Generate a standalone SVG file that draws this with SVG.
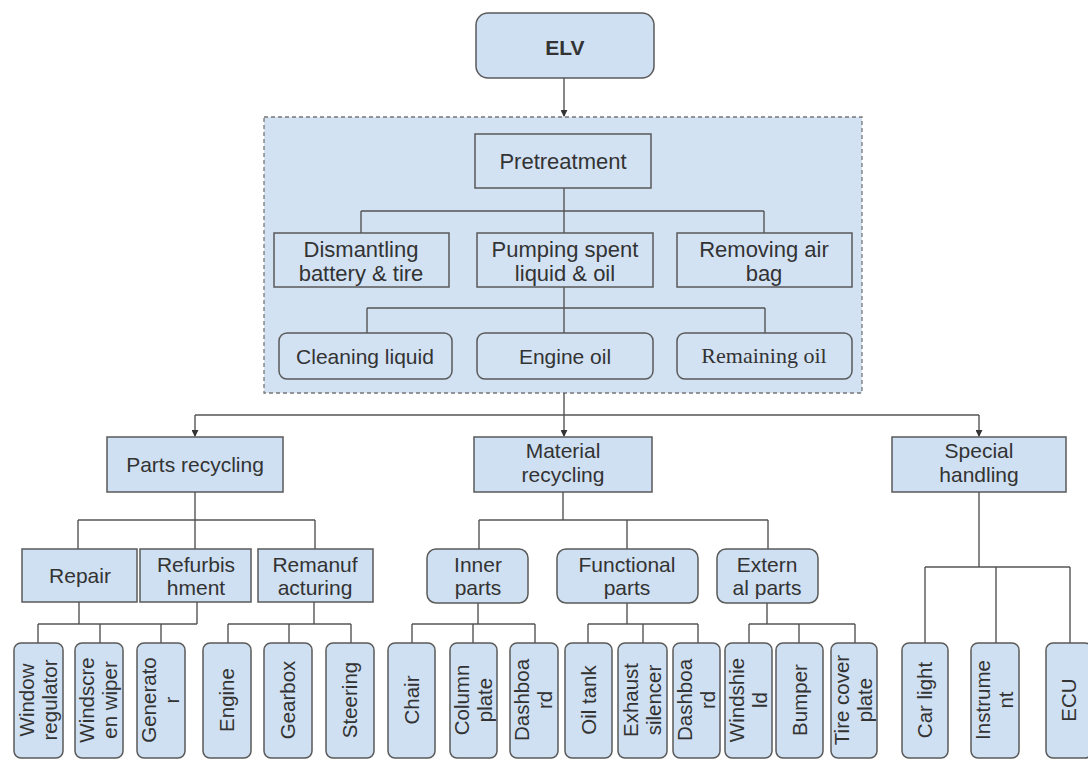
<svg xmlns="http://www.w3.org/2000/svg" width="1088" height="760" viewBox="0 0 1088 760">
<defs>
<marker id="arr" viewBox="0 0 8 8" refX="7" refY="4" markerWidth="7" markerHeight="7" markerUnits="userSpaceOnUse" orient="auto">
<path d="M0,0 L8,4 L0,8 z" fill="#333"/>
</marker>
</defs>
<style>
.box{fill:#cfe0f2;stroke:#5a5a5a;stroke-width:1.5}
.inbox{fill:#d2e2f3;stroke:#5a5a5a;stroke-width:1.5}
.cont{fill:#d2e2f3;stroke:#777;stroke-width:1.3;stroke-dasharray:4 3}
.ln{fill:none;stroke:#555;stroke-width:1.4}
.t{font-family:"Liberation Sans",Arial,sans-serif;fill:#333;text-anchor:middle}
.s{font-family:"Liberation Serif","Times New Roman",serif;fill:#333;text-anchor:middle}
.f22{font-size:22px}
.f21{font-size:21px}
.f20{font-size:20.5px}
</style>
<rect class="cont" x="264" y="117" width="598" height="276"/>
<g id="connectors">
<path class="ln" d="M564,78 V116" marker-end="url(#arr)"/>
<path class="ln" d="M564,188 V211 M361,211 H764 M361,211 V233 M564,211 V233 M764,211 V233"/>
<path class="ln" d="M564,287 V308 M367,308 H765 M367,308 V333 M564,308 V333 M765,308 V333"/>
<path class="ln" d="M564,393 V415 M195,415 H979"/>
<path class="ln" d="M195,415 V436" marker-end="url(#arr)"/>
<path class="ln" d="M564,415 V436" marker-end="url(#arr)"/>
<path class="ln" d="M979,415 V436" marker-end="url(#arr)"/>
<path class="ln" d="M195,492 V520 M78,520 H315 M78,520 V549 M195,520 V549 M315,520 V549"/>
<path class="ln" d="M79,602 V624 M197,602 V624 M38,624 H197 M38,624 V643 M100,624 V643 M161,624 V643"/>
<path class="ln" d="M314,602 V624 M228,624 H351 M228,624 V643 M289,624 V643 M351,624 V643"/>
<path class="ln" d="M563,492 V520 M479,520 H768 M479,520 V549 M627,520 V549 M768,520 V549"/>
<path class="ln" d="M478,603 V624 M412,624 H535 M412,624 V643 M473,624 V643 M535,624 V643"/>
<path class="ln" d="M627,603 V624 M588,624 H698 M588,624 V643 M643,624 V643 M698,624 V643"/>
<path class="ln" d="M767,603 V624 M749,624 H855 M749,624 V643 M799,624 V643 M855,624 V643"/>
<path class="ln" d="M979,492 V567 M925,567 H1070 M925,567 V643 M996,567 V643 M1070,567 V643"/>
</g>
<g id="elv"><rect class="box" x="476" y="13" width="178" height="65" rx="12"/><text class="t" x="565" y="55" font-size="21" font-weight="bold">ELV</text></g>
<g id="pretreatment"><rect class="inbox" x="475" y="134" width="176" height="54"/><text class="t f22" x="563" y="169">Pretreatment</text></g>
<g id="dismantling"><rect class="inbox" x="274" y="233" width="175" height="54"/><text class="t f22" x="361" y="257">Dismantling<tspan x="361" dy="24">battery &amp; tire</tspan></text></g>
<g id="pumping"><rect class="inbox" x="477" y="233" width="176" height="54"/><text class="t f22" x="565" y="257">Pumping spent<tspan x="565" dy="24">liquid &amp; oil</tspan></text></g>
<g id="airbag"><rect class="inbox" x="677" y="233" width="175" height="54"/><text class="t f22" x="764" y="257">Removing air<tspan x="764" dy="24">bag</tspan></text></g>
<g id="cleaning"><rect class="inbox" x="279" y="333" width="173" height="46" rx="8"/><text class="t f21" x="365" y="364">Cleaning liquid</text></g>
<g id="engineoil"><rect class="inbox" x="477" y="333" width="176" height="46" rx="8"/><text class="t f21" x="565" y="364">Engine oil</text></g>
<g id="remaining"><rect class="inbox" x="677" y="333" width="175" height="46" rx="8"/><text class="s f22" x="764" y="363">Remaining oil</text></g>
<g id="parts"><rect class="box" x="107" y="437" width="176" height="55"/><text class="t f21" x="195" y="472">Parts recycling</text></g>
<g id="material"><rect class="box" x="474" y="437" width="178" height="55"/><text class="t f21" x="563" y="458">Material<tspan x="563" dy="24">recycling</tspan></text></g>
<g id="special"><rect class="box" x="892" y="437" width="174" height="55"/><text class="t f21" x="979" y="458">Special<tspan x="979" dy="24">handling</tspan></text></g>
<g id="repair"><rect class="box" x="22" y="549" width="115" height="53"/><text class="t f21" x="80" y="583">Repair</text></g>
<g id="refurb"><rect class="box" x="140" y="549" width="111" height="53"/><text class="t f21" x="196" y="572">Refurbis<tspan x="196" dy="23">hment</tspan></text></g>
<g id="reman"><rect class="box" x="258" y="549" width="115" height="53"/><text class="t f21" x="315" y="572">Remanuf<tspan x="315" dy="23">acturing</tspan></text></g>
<g id="inner"><rect class="box" x="427" y="549" width="101" height="54" rx="9"/><text class="t f21" x="478" y="572">Inner<tspan x="478" dy="23">parts</tspan></text></g>
<g id="functional"><rect class="box" x="557" y="549" width="141" height="54" rx="9"/><text class="t f21" x="627" y="572">Functional<tspan x="627" dy="23">parts</tspan></text></g>
<g id="external"><rect class="box" x="717" y="549" width="101" height="54" rx="9"/><text class="t f21" x="767" y="572">Extern<tspan x="767" dy="23">al parts</tspan></text></g>
<g id="window"><rect class="box" x="14" y="643" width="49" height="115" rx="7"/><text class="t f20" transform="translate(38.5,700) rotate(-90)" y="-5">Window<tspan x="0" dy="23">regulator</tspan></text></g>
<g id="wiper"><rect class="box" x="75" y="643" width="48" height="115" rx="7"/><text class="t f20" transform="translate(99,700) rotate(-90)" y="-5">Windscre<tspan x="0" dy="23">en wiper</tspan></text></g>
<g id="generator"><rect class="box" x="137" y="643" width="48" height="115" rx="7"/><text class="t f20" transform="translate(161,700) rotate(-90)" y="-5">Generato<tspan x="0" dy="23">r</tspan></text></g>
<g id="engine"><rect class="box" x="203" y="643" width="48" height="115" rx="7"/><text class="t f20" transform="translate(227,700) rotate(-90)" y="7">Engine</text></g>
<g id="gearbox"><rect class="box" x="264" y="643" width="48" height="115" rx="7"/><text class="t f20" transform="translate(288,700) rotate(-90)" y="7">Gearbox</text></g>
<g id="steering"><rect class="box" x="326" y="643" width="48" height="115" rx="7"/><text class="t f20" transform="translate(350,700) rotate(-90)" y="7">Steering</text></g>
<g id="chair"><rect class="box" x="388" y="643" width="47" height="115" rx="7"/><text class="t f20" transform="translate(411.5,700) rotate(-90)" y="7">Chair</text></g>
<g id="column"><rect class="box" x="450" y="643" width="47" height="115" rx="7"/><text class="t f20" transform="translate(473.5,700) rotate(-90)" y="-5">Column<tspan x="0" dy="23">plate</tspan></text></g>
<g id="dash1"><rect class="box" x="510" y="643" width="48" height="115" rx="7"/><text class="t f20" transform="translate(534,700) rotate(-90)" y="-5">Dashboa<tspan x="0" dy="23">rd</tspan></text></g>
<g id="oiltank"><rect class="box" x="565" y="643" width="47" height="115" rx="7"/><text class="t f20" transform="translate(588.5,700) rotate(-90)" y="7">Oil tank</text></g>
<g id="exhaust"><rect class="box" x="618" y="643" width="49" height="115" rx="7"/><text class="t f20" transform="translate(642.5,700) rotate(-90)" y="-5">Exhaust<tspan x="0" dy="23">silencer</tspan></text></g>
<g id="dash2"><rect class="box" x="673" y="643" width="47" height="115" rx="7"/><text class="t f20" transform="translate(696.5,700) rotate(-90)" y="-5">Dashboa<tspan x="0" dy="23">rd</tspan></text></g>
<g id="windshield"><rect class="box" x="725" y="643" width="47" height="115" rx="7"/><text class="t f20" transform="translate(748.5,700) rotate(-90)" y="-5">Windshie<tspan x="0" dy="23">ld</tspan></text></g>
<g id="bumper"><rect class="box" x="776" y="643" width="47" height="115" rx="7"/><text class="t f20" transform="translate(799.5,700) rotate(-90)" y="7">Bumper</text></g>
<g id="tirecover"><rect class="box" x="831" y="643" width="46" height="115" rx="7"/><text class="t f20" transform="translate(854,700) rotate(-90)" y="-5">Tire cover<tspan x="0" dy="23">plate</tspan></text></g>
<g id="carlight"><rect class="box" x="902" y="643" width="46" height="115" rx="7"/><text class="t f20" transform="translate(925,700) rotate(-90)" y="7">Car light</text></g>
<g id="instrument"><rect class="box" x="971" y="643" width="48" height="115" rx="7"/><text class="t f20" transform="translate(995,700) rotate(-90)" y="-5">Instrume<tspan x="0" dy="23">nt</tspan></text></g>
<g id="ecu"><rect class="box" x="1046" y="643" width="46" height="115" rx="7"/><text class="t f20" transform="translate(1069,700) rotate(-90)" y="7">ECU</text></g>
</svg>
